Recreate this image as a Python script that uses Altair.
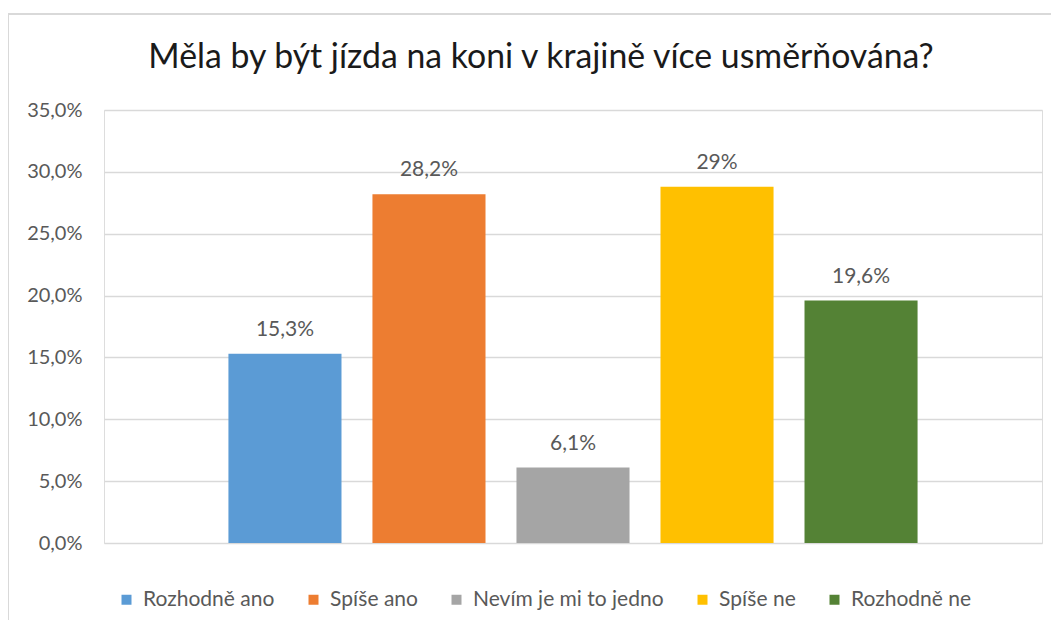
import altair as alt
import pandas as pd

categories = ["Rozhodně ano", "Spíše ano", "Nevím je mi to jedno", "Spíše ne", "Rozhodně ne"]
values = [15.3, 28.2, 6.1, 28.8, 19.6]
labels = ["15,3%", "28,2%", "6,1%", "29%", "19,6%"]
colors = ["#5B9BD5", "#ED7D31", "#A5A5A5", "#FFC000", "#548235"]
y_ticks = [0, 5, 10, 15, 20, 25, 30, 35]
title_text = "Měla by být jízda na koni v krajině více usměrňována?"

df = pd.DataFrame({"cat": categories, "val": [v / 100 for v in values], "label": labels})

FONT = "Lato"
GRAY = "#595959"

x = alt.X("cat:N", sort=categories, axis=None,
          scale=alt.Scale(paddingInner=0.215, paddingOuter=0.864))
y = alt.Y("val:Q", scale=alt.Scale(domain=[0, 0.35]),
          axis=alt.Axis(values=[t / 100 for t in y_ticks],
                        labelExpr="replace(format(datum.value, '.1%'), '.', ',')",
                        title=None, domain=False, ticks=False, grid=True,
                        gridColor="#D9D9D9", gridWidth=1.5,
                        labelColor=GRAY, labelFontSize=20, labelFont=FONT,
                        labelPadding=22))

base = alt.Chart(df)

bars = base.mark_bar().encode(
    x=x, y=y,
    color=alt.Color("cat:N", sort=categories,
                    scale=alt.Scale(domain=categories, range=colors),
                    legend=alt.Legend(orient="none", legendX=12, legendY=479,
                                      direction="horizontal", title=None,
                                      symbolType="square", symbolSize=100,
                                      symbolStrokeWidth=0,
                                      labelFontSize=21, labelFont=FONT,
                                      labelColor=GRAY, labelOffset=6,
                                      labelLimit=0,
                                      columnPadding=28, columns=5)),
)

text = base.mark_text(baseline="alphabetic", dy=-18, fontSize=21, font=FONT,
                      color=GRAY).encode(x=x, y=y, text="label:N")

border = alt.Chart(pd.DataFrame({"a": [0]})).mark_rect(
    fillOpacity=0, stroke="#D9D9D9", strokeWidth=2
).encode(x=alt.value(-96), x2=alt.value(1000), y=alt.value(-96), y2=alt.value(700))

chart = alt.layer(border, bars, text).properties(
    width=938, height=433,
    title=alt.TitleParams(title_text, fontSize=33.8, font=FONT, fontWeight="normal",
                          color="#1A1A1A", anchor="middle", dx=-32,
                          baseline="alphabetic", offset=-89),
    autosize=alt.AutoSizeParams(type="none"),
    padding={"left": 96, "top": 102, "right": 9, "bottom": 77},
).configure_view(stroke=None).configure(background="white")

chart.save("out.html", embed_options={"renderer": "svg", "actions": False})
